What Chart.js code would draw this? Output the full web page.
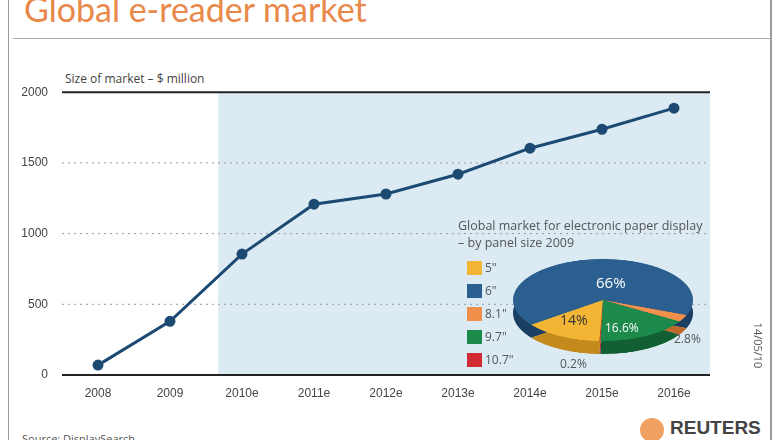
<!DOCTYPE html>
<html><head><meta charset="utf-8">
<script src="https://cdn.jsdelivr.net/npm/chart.js@4"></script>
<style>
body{margin:0;width:780px;height:440px;background:#fff;font-family:"Open Sans",sans-serif;position:relative;overflow:hidden}
.abs{position:absolute;white-space:nowrap}
#main{position:absolute;left:20px;top:79px;width:697px;height:331px}
.pie{position:absolute;left:513px;width:180px;height:180px;transform:scaleY(0.456)}
.lg{position:absolute;left:467px;width:15px;height:14px}
.lt{position:absolute;left:485px;font-size:12px;color:#555}
</style></head><body>
<div class="abs" style="left:24px;top:-12px;font-size:34px;color:#e8894a;font-family:Lato,sans-serif">Global e-reader market</div>
<div class="abs" style="left:13px;top:38px;width:757px;height:1px;background:#aaa"></div>
<div class="abs" style="left:8px;top:0;width:1px;height:440px;background:#999"></div>
<div class="abs" style="left:770px;top:0;width:2px;height:440px;background:#999"></div>
<div class="abs" style="left:65px;top:70px;font-size:12px;color:#444">Size of market – $ million</div>
<div id="main"><canvas id="c"></canvas></div>
<canvas id="pieB" class="pie" width="180" height="180" style="top:223px"></canvas>
<canvas id="pieT" class="pie" width="180" height="180" style="top:210px"></canvas>
<div class="abs" style="left:458px;top:217px;font-size:12.5px;color:#555;line-height:17px">Global market for electronic paper display<br>– by panel size 2009</div>
<div id="legend"></div>
<div class="abs" style="left:596px;top:272px;font-size:15px;color:#fff">66%</div>
<div class="abs" style="left:560px;top:310px;font-size:14px;color:#333">14%</div>
<div class="abs" style="left:605px;top:319px;font-size:12px;color:#fff">16.6%</div>
<div class="abs" style="left:674px;top:330px;font-size:12px;color:#555">2.8%</div>
<div class="abs" style="left:560px;top:355px;font-size:12px;color:#555">0.2%</div>
<div class="abs" style="left:736px;top:338px;font-size:11px;color:#555;transform:rotate(90deg)">14/05/10</div>
<div class="abs" style="left:640px;top:418px;width:24px;height:24px;border-radius:50%;background:#f0a060"></div>
<div class="abs" style="left:670px;top:417px;font-size:19px;font-weight:bold;color:#444;font-family:'Liberation Sans',sans-serif">REUTERS</div>
<div class="abs" style="left:22px;top:431px;font-size:11px;color:#555">Source: DisplaySearch</div>
<script>
const years = ['2008','2009','2010e','2011e','2012e','2013e','2014e','2015e','2016e'];
const marketSize = [70, 380, 855, 1208, 1280, 1420, 1604, 1738, 1887];
const yTicks = [0, 500, 1000, 1500, 2000];

const panelSizes = ['5"', '6"', '8.1"', '9.7"', '10.7"'];
const panelShare = [14, 66, 2.8, 16.6, 0.2];
const panelColors = ['#f2b534', '#2a5f8f', '#f0904a', '#1c8a4a', '#d02a35'];
const panelDark = ['#c48a1c', '#1b3f62', '#c06a2c', '#115f32', '#a01a22'];
// pie draw order clockwise: 6", 8.1", 9.7", 10.7", 5"
const pieOrder = [1, 2, 3, 4, 0];

const bgPlugin = {
  id: 'bg',
  beforeDatasetsDraw(chart) {
    const {ctx, chartArea: a, scales: {x, y}} = chart;
    const p1 = x.getPixelForValue(1), p2 = x.getPixelForValue(2);
    const sx = p1 + (p2 - p1) * 0.67;
    ctx.save();
    ctx.fillStyle = '#dcebf3';
    ctx.fillRect(sx, y.getPixelForValue(2000), a.right - sx, y.getPixelForValue(0) - y.getPixelForValue(2000));
    yTicks.forEach(v => {
      const py = y.getPixelForValue(v);
      ctx.beginPath();
      if (v === 0 || v === 2000) { ctx.setLineDash([]); ctx.strokeStyle = '#222'; ctx.lineWidth = 2; }
      else { ctx.setLineDash([2, 4]); ctx.strokeStyle = '#999'; ctx.lineWidth = 1; }
      ctx.moveTo(a.left, py); ctx.lineTo(a.right, py); ctx.stroke();
    });
    ctx.restore();
  }
};

new Chart(document.getElementById('c'), {
  type: 'line',
  data: {labels: years, datasets: [{
    data: marketSize, borderColor: '#1d4a72', backgroundColor: '#1d4a72',
    borderWidth: 3, pointRadius: 4, tension: 0
  }]},
  options: {
    responsive: true, maintainAspectRatio: false, animation: false,
    layout: {padding: {top: 3, right: 0}},
    plugins: {legend: {display: false}, tooltip: {enabled: false}},
    scales: {
      x: {offset: true, grid: {display: false}, border: {display: false},
          ticks: {color: '#444', font: {size: 12}, padding: 3},
          afterFit: s => { s.height = 35; }},
      y: {min: 0, max: 2000, grid: {display: false}, border: {display: false},
          ticks: {stepSize: 500, color: '#444', font: {size: 12}, padding: 6,
                  callback: v => String(v)},
          afterFit: s => { s.width = 42; }}
    }
  },
  plugins: [bgPlugin]
});

function pie(id, colors) {
  new Chart(document.getElementById(id), {
    type: 'pie',
    data: {labels: pieOrder.map(i => panelSizes[i]), datasets: [{
      data: pieOrder.map(i => panelShare[i]),
      backgroundColor: pieOrder.map(i => colors[i]),
      borderWidth: 0
    }]},
    options: {responsive: false, animation: false, rotation: -127,
      plugins: {legend: {display: false}, tooltip: {enabled: false}}}
  });
}
pie('pieB', panelDark);
pie('pieT', panelColors);

const lg = document.getElementById('legend');
panelSizes.forEach((s, i) => {
  const top = 261 + i * 23;
  lg.innerHTML += `<div class="lg" style="top:${top}px;background:${panelColors[i]}"></div>` +
    `<div class="lt" style="top:${top - 2}px">${s}</div>`;
});
</script>
</body></html>
